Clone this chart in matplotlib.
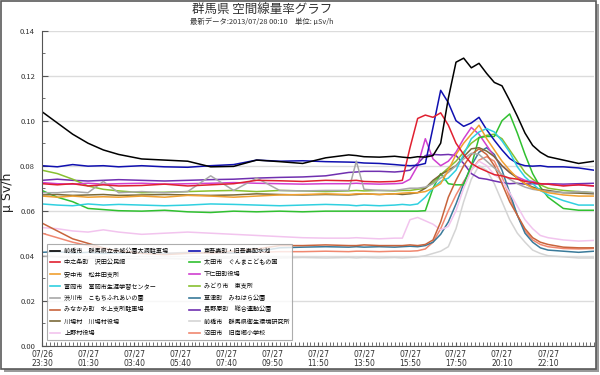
import matplotlib
matplotlib.use("Agg")
import matplotlib.pyplot as plt
from matplotlib.patches import Rectangle
from matplotlib.ticker import MultipleLocator

plt.rcParams['font.family'] = ['Noto Sans CJK JP', 'DejaVu Sans']

# sample positions (10 minute steps from 07/26 23:30)
t = [0, 4, 8, 12, 16, 20, 26, 32, 38, 44, 50, 56, 62, 68, 74, 80, 82, 84, 88,
     92, 94, 96, 98, 100, 102, 104, 106, 108, 110, 112, 114, 116, 118, 120, 122,
     124, 126, 128, 130, 132, 136, 140, 144]

tick_pos = [0, 12, 24, 36, 48, 60, 72, 84, 96, 108, 120, 132]
tick_labels = ['07/26\n23:30', '07/27\n01:30', '07/27\n03:40', '07/27\n05:40',
               '07/27\n07:40', '07/27\n09:50', '07/27\n11:50', '07/27\n13:50',
               '07/27\n15:50', '07/27\n17:50', '07/27\n20:10', '07/27\n22:10']

names = ['前橋市　群馬県立赤城公園大洞駐車場', '中之条町　沢田公民館', '安中市　松井田支所',
         '富岡市　富岡市生涯学習センター', '渋川市　こもちふれあいの園', 'みなかみ町　水上支所駐車場',
         '川場村　川場村役場', '上野村役場',
         '東吾妻町・旧吾妻配水池', '太田市　ぐんまこどもの国', '下仁田町役場', 'みどり市　東支所',
         '草津町　みねはら公園', '長野原町　総合運動公園', '前橋市　群馬県衛生環境研究所', '沼田市　旧南郷小学校']

colors = ['#000000', '#e02030', '#f0a030', '#30d0e0', '#a8a8a8', '#c8643c', '#7a6a3a', '#f2c4ee',
          '#1010b0', '#30c030', '#d040d0', '#88c030', '#3a7a9a', '#7030b0', '#d4d4d4', '#f08870']

maebashi_akagi = [0.104, 0.099, 0.094, 0.090, 0.087, 0.085, 0.083, 0.0825, 0.082, 0.0795, 0.0797,
                  0.0825, 0.0818, 0.081, 0.0835, 0.0848, 0.0845, 0.084, 0.0838, 0.0842, 0.0838,
                  0.0835, 0.084, 0.0838, 0.0845, 0.090, 0.110, 0.126, 0.1278, 0.1235, 0.1255,
                  0.121, 0.117, 0.1155, 0.109, 0.102, 0.0945, 0.089, 0.086, 0.084, 0.0825, 0.081, 0.082]
nakanojo = [0.072, 0.0715, 0.072, 0.071, 0.0715, 0.071, 0.0712, 0.0718, 0.071, 0.0715, 0.072,
            0.0735, 0.0733, 0.073, 0.0735, 0.0733, 0.0735, 0.073, 0.0728, 0.073, 0.0735,
            0.088, 0.101, 0.1025, 0.1015, 0.1035, 0.098, 0.090, 0.085, 0.081, 0.079,
            0.0775, 0.076, 0.0755, 0.0745, 0.074, 0.073, 0.0725, 0.072, 0.0718, 0.071, 0.0715, 0.071]
annaka = [0.0665, 0.066, 0.0665, 0.066, 0.0662, 0.066, 0.0665, 0.066, 0.0668, 0.0665, 0.066,
          0.0665, 0.067, 0.0672, 0.0675, 0.0672, 0.0675, 0.0675, 0.0672, 0.0675, 0.0678,
          0.068, 0.068, 0.0685, 0.070, 0.072, 0.078, 0.085, 0.090, 0.094, 0.098,
          0.092, 0.087, 0.082, 0.078, 0.0745, 0.072, 0.070, 0.069, 0.068, 0.067, 0.0665, 0.0665]
tomioka = [0.063, 0.0625, 0.0622, 0.063, 0.0625, 0.0628, 0.0625, 0.0622, 0.0625, 0.063, 0.0628,
           0.0625, 0.0622, 0.0625, 0.0628, 0.0625, 0.0622, 0.0625, 0.0622, 0.0625, 0.0628,
           0.0625, 0.063, 0.066, 0.070, 0.073, 0.0745, 0.078, 0.085, 0.092, 0.095,
           0.0965, 0.095, 0.091, 0.086, 0.0795, 0.075, 0.072, 0.069, 0.067, 0.0645, 0.0625, 0.0625]
shibukawa = [0.068, 0.068, 0.0685, 0.068, 0.073, 0.068, 0.0685, 0.068, 0.0685, 0.0755, 0.069,
             0.0745, 0.069, 0.0688, 0.069, 0.069, 0.082, 0.0695, 0.069, 0.069, 0.0695,
             0.070, 0.070, 0.0705, 0.072, 0.0745, 0.077, 0.080, 0.083, 0.0855, 0.085,
             0.082, 0.079, 0.076, 0.074, 0.072, 0.0705, 0.0695, 0.069, 0.0685, 0.068, 0.0685, 0.068]
minakami = [0.0545, 0.051, 0.0475, 0.0455, 0.0435, 0.042, 0.041, 0.0405, 0.041, 0.0415, 0.042,
            0.043, 0.0445, 0.0445, 0.0448, 0.0445, 0.0445, 0.0448, 0.0445, 0.0445, 0.0445,
            0.0448, 0.0445, 0.045, 0.047, 0.055, 0.066, 0.0735, 0.080, 0.085, 0.0875,
            0.085, 0.080, 0.072, 0.064, 0.058, 0.052, 0.048, 0.046, 0.045, 0.0438, 0.0435, 0.0435]
kawaba = [0.067, 0.0672, 0.0668, 0.067, 0.0672, 0.0668, 0.067, 0.0672, 0.067, 0.0668, 0.067,
          0.0675, 0.0672, 0.067, 0.0672, 0.067, 0.0672, 0.0675, 0.0672, 0.0675, 0.0672,
          0.0675, 0.068, 0.070, 0.0735, 0.076, 0.078, 0.080, 0.084, 0.0875, 0.088,
          0.0865, 0.084, 0.080, 0.077, 0.0745, 0.072, 0.0705, 0.0695, 0.069, 0.068, 0.0678, 0.0675]
uenomura = [0.0525, 0.052, 0.051, 0.0505, 0.0515, 0.0505, 0.0495, 0.050, 0.0505, 0.050, 0.0495,
            0.049, 0.0485, 0.048, 0.0478, 0.0478, 0.048, 0.0478, 0.0475, 0.0478, 0.0478,
            0.056, 0.057, 0.0555, 0.054, 0.0515, 0.053, 0.060, 0.070, 0.078, 0.082,
            0.080, 0.076, 0.0735, 0.068, 0.062, 0.056, 0.052, 0.049, 0.048, 0.047, 0.0465, 0.0468]
higashiagatsuma = [0.080, 0.0795, 0.0805, 0.0798, 0.080, 0.0795, 0.080, 0.0795, 0.0793, 0.080, 0.0805,
                   0.0825, 0.082, 0.0822, 0.0818, 0.0816, 0.0815, 0.0812, 0.081, 0.0805, 0.0802,
                   0.080, 0.0802, 0.081, 0.097, 0.1135, 0.108, 0.100, 0.0975, 0.099, 0.1015,
                   0.096, 0.0913, 0.087, 0.0832, 0.081, 0.080, 0.0798, 0.080, 0.0795, 0.0795, 0.079, 0.078]
ota = [0.069, 0.066, 0.064, 0.061, 0.0605, 0.060, 0.0598, 0.0602, 0.0595, 0.0592, 0.0598,
       0.0595, 0.0598, 0.0595, 0.0598, 0.0598, 0.0598, 0.0598, 0.0598, 0.0598, 0.0598,
       0.0598, 0.0598, 0.060, 0.070, 0.0765, 0.072, 0.0715, 0.0715, 0.080, 0.0925,
       0.093, 0.093, 0.100, 0.103, 0.0945, 0.085, 0.0765, 0.0705, 0.066, 0.061, 0.0602, 0.0602]
shimonita = [0.0725, 0.072, 0.0718, 0.0722, 0.0718, 0.072, 0.0722, 0.0718, 0.072, 0.0722, 0.0725,
             0.0722, 0.072, 0.0718, 0.072, 0.072, 0.0722, 0.072, 0.0718, 0.072, 0.0722,
             0.074, 0.080, 0.092, 0.083, 0.080, 0.082, 0.086, 0.092, 0.097, 0.094,
             0.089, 0.084, 0.080, 0.077, 0.075, 0.0735, 0.073, 0.072, 0.0718, 0.0712, 0.0715, 0.071]
midori = [0.078, 0.0765, 0.074, 0.071, 0.0695, 0.0688, 0.068, 0.0682, 0.0685, 0.0688, 0.069,
          0.0685, 0.069, 0.0688, 0.0685, 0.0688, 0.069, 0.0688, 0.069, 0.0688, 0.069,
          0.069, 0.0695, 0.070, 0.0725, 0.076, 0.079, 0.082, 0.086, 0.090, 0.0925,
          0.0935, 0.094, 0.092, 0.087, 0.082, 0.077, 0.074, 0.0715, 0.070, 0.069, 0.0685, 0.068]
minehara = [0.0415, 0.0418, 0.0412, 0.0415, 0.041, 0.0412, 0.0415, 0.041, 0.0412, 0.0415, 0.0412,
            0.0418, 0.0435, 0.0438, 0.044, 0.0438, 0.044, 0.0438, 0.044, 0.0438, 0.044,
            0.0442, 0.044, 0.0445, 0.046, 0.0495, 0.055, 0.063, 0.072, 0.080, 0.086,
            0.088, 0.085, 0.078, 0.068, 0.058, 0.050, 0.046, 0.0435, 0.0425, 0.042, 0.0415, 0.042]
naganohara = [0.0735, 0.074, 0.0735, 0.0732, 0.0735, 0.0738, 0.0735, 0.0732, 0.0735, 0.0738, 0.074,
              0.0745, 0.0748, 0.075, 0.0755, 0.077, 0.0772, 0.0775, 0.0775, 0.0772, 0.0775,
              0.078, 0.081, 0.0845, 0.085, 0.0848, 0.085, 0.0845, 0.081, 0.0765, 0.0745,
              0.074, 0.0732, 0.0725, 0.072, 0.0722, 0.0718, 0.072, 0.0718, 0.072, 0.0718, 0.072, 0.0722]
maebashi_eiken = [0.040, 0.0395, 0.039, 0.0388, 0.039, 0.0388, 0.0385, 0.0388, 0.0385, 0.0388, 0.039,
                  0.0388, 0.039, 0.0392, 0.039, 0.0392, 0.039, 0.0392, 0.039, 0.0392, 0.039,
                  0.0392, 0.0395, 0.040, 0.041, 0.042, 0.044, 0.052, 0.064, 0.074, 0.080,
                  0.078, 0.072, 0.064, 0.056, 0.050, 0.046, 0.0425, 0.041, 0.040, 0.0395, 0.039, 0.039]
numata = [0.050, 0.048, 0.046, 0.0445, 0.043, 0.042, 0.0415, 0.041, 0.0415, 0.041, 0.0412,
          0.0415, 0.0418, 0.0418, 0.042, 0.0418, 0.042, 0.042, 0.0418, 0.042, 0.042,
          0.042, 0.0422, 0.043, 0.046, 0.052, 0.060, 0.067, 0.073, 0.078, 0.0825,
          0.084, 0.082, 0.075, 0.066, 0.058, 0.051, 0.047, 0.045, 0.044, 0.0432, 0.043, 0.0432]

series = [maebashi_akagi, nakanojo, annaka, tomioka, shibukawa, minakami, kawaba, uenomura,
          higashiagatsuma, ota, shimonita, midori, minehara, naganohara, maebashi_eiken, numata]

fig = plt.figure(figsize=(6, 3.75), dpi=100)
fig.patches.append(Rectangle((4/600, 1 - 372/375), 595/600, 368/375, transform=fig.transFigure,
                             facecolor='#9a9a9a', edgecolor='none', zorder=-2))
fig.patches.append(Rectangle((1/600, 1 - 369/375), 595/600, 368/375, transform=fig.transFigure,
                             facecolor='white', edgecolor='#5a5a5a', lw=1.2, zorder=-1))

ax = fig.add_axes([42/600, 1 - 345.7/375, 552/600, 315/375])
ax.set_facecolor('white')

# draw back to front so the black line sits on top like the original
for vals, name, c in reversed(list(zip(series, names, colors))):
    ax.plot(t, vals, color=c, lw=1.1, label=name)

ax.set_xlim(0, 144)
ax.set_ylim(0, 0.14)
ax.yaxis.set_major_locator(MultipleLocator(0.02))
ax.yaxis.set_minor_locator(MultipleLocator(0.01))
ax.set_yticklabels([f'{v:.2f}' for v in ax.get_yticks()])
ax.set_xticks(tick_pos)
ax.set_xticklabels(tick_labels, family='DejaVu Sans', linespacing=0.95)
ax.xaxis.set_minor_locator(MultipleLocator(1))
ax.tick_params(axis='both', which='both', direction='in', colors='#555555', labelcolor='#333333')
ax.tick_params(axis='y', which='major', length=4, labelsize=5.5, pad=5)
ax.tick_params(axis='y', which='minor', length=2.5)
ax.tick_params(axis='x', which='major', length=3, labelsize=5.5, pad=3)
ax.tick_params(axis='x', which='minor', length=3)
ax.grid(axis='y', color='#dcdcdc', lw=1.0)
ax.set_axisbelow(True)
for s in ['top', 'right']:
    ax.spines[s].set_visible(False)
for s in ['left', 'bottom']:
    ax.spines[s].set_color('#555555')
    ax.spines[s].set_linewidth(0.8)

handles, labels = ax.get_legend_handles_labels()
handles, labels = handles[::-1], labels[::-1]
leg = ax.legend(handles, labels, loc='lower left', bbox_to_anchor=(0.009, 0.018), borderaxespad=0,
                ncol=2, fontsize=4.4, labelspacing=0.62, handlelength=1.7, handletextpad=0.7,
                columnspacing=3.4, borderpad=0.45, frameon=True, fancybox=False)
leg.get_frame().set_edgecolor('#999999')
leg.get_frame().set_linewidth(0.8)
for h in leg.get_lines():
    h.set_linewidth(1.2)

fig.text(262/600, 1 - 9/375, '群馬県 空間線量率グラフ', ha='center', va='center', fontsize=9, color='#333333')
fig.text(262/600, 1 - 21.5/375, '最新データ:2013/07/28 00:10　単位: μSv/h', ha='center', va='center',
         fontsize=5.3, color='#333333')
fig.text(8/600, 1 - 192/375, 'μ Sv/h', rotation=90, ha='center', va='center', fontsize=9,
         color='#222222', family=['DejaVu Sans'])

fig.savefig('out.png', dpi=100, facecolor='white')
